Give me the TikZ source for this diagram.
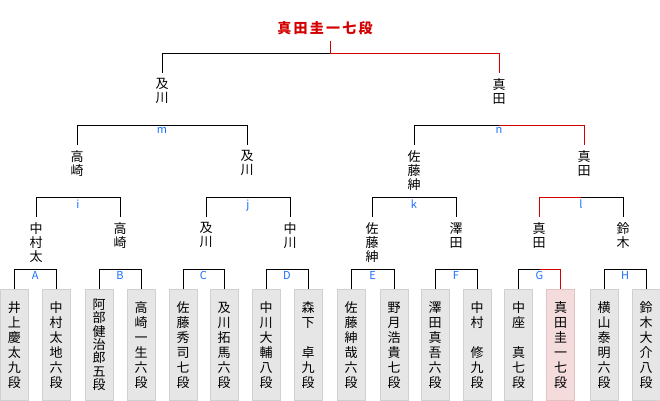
\documentclass[tikz,border=0pt]{standalone}
\usepackage{fontspec}
\setmainfont{Noto Sans CJK JP}
\newfontfamily\titlefont[LetterSpace=16]{Noto Sans CJK JP}
\usepackage{xcolor}
\usepackage{tikz}
\usetikzlibrary{positioning,calc}
\definecolor{winred}{HTML}{D40000}
\definecolor{tagblue}{HTML}{1A6EFF}
\definecolor{boxgray}{HTML}{E6E6E6}
\definecolor{boxline}{HTML}{D0D0D0}
\definecolor{boxpink}{HTML}{F4DCDC}
\definecolor{pinkline}{HTML}{E2C2C2}

\begin{document}
\begin{tikzpicture}[x=1pt,y=-1pt,line width=1pt,
    leaf/.style={draw=boxline,fill=boxgray,line width=0.8pt,anchor=north,minimum width=28pt,minimum height=111pt,inner sep=0pt,align=center},
    leafwin/.style={leaf,draw=pinkline,fill=boxpink},
    who/.style={anchor=north,inner xsep=0pt,inner ysep=5pt,align=center,font=\fontsize{13}{14}\selectfont},
    mlabel/.style={text=tagblue,font=\fontsize{11}{11}\selectfont,inner sep=0pt,below=2pt},
    winline/.style={draw=winred}]
  \useasboundingbox (0,0) rectangle (660,400);
  \def\match#1#2#3#4{% left, right, top y, label
    \draw (#1.north) -- (#1.north |- 0,#3) -| (#2.north) coordinate[pos=.25] (m#4) node[mlabel,pos=.25] {#4};}
  % players
  \foreach \nm/\x/\ls/\st/\txt in {
      a1/14.5/15/leaf/{井\\上\\慶\\太\\九\\段}, a2/56/15/leaf/{中\\村\\太\\地\\六\\段},
      b1/99/13.3/leaf/{阿\\部\\健\\治\\郎\\五\\段}, b2/141/15/leaf/{高\\崎\\一\\生\\六\\段},
      c1/183/15/leaf/{佐\\藤\\秀\\司\\七\\段}, c2/224/15/leaf/{及\\川\\拓\\馬\\六\\段},
      d1/266/15/leaf/{中\\川\\大\\輔\\八\\段}, d2/308/15/leaf/{森\\下\\\phantom{段}\\卓\\九\\段},
      e1/351/15/leaf/{佐\\藤\\紳\\哉\\六\\段}, e2/394/15/leaf/{野\\月\\浩\\貴\\七\\段},
      f1/435/15/leaf/{澤\\田\\真\\吾\\六\\段}, f2/477/15/leaf/{中\\村\\\phantom{段}\\修\\九\\段},
      g1/518.5/15/leaf/{中\\座\\\phantom{段}\\真\\七\\段}, g2/560.5/15/leafwin/{真\\田\\圭\\一\\七\\段},
      h1/604/15/leaf/{横\\山\\泰\\明\\六\\段}, h2/646/15/leaf/{鈴\\木\\大\\介\\八\\段}}
    \node[\st,font=\fontsize{13}{\ls}\selectfont] (\nm) at (\x,289) {\txt};
  % first round
  \foreach \p/\l in {a/A,b/B,c/C,d/D,e/E,f/F,g/G,h/H}
    \match{\p1}{\p2}{269}{\l};
  \draw[winline] (mG) -| (g2.north);
  % second round
  \node[who] (wA) at (36,217) {中\\村\\太};
  \node[who] (wB) at (120,217) {高\\崎};
  \node[who] (wC) at (206,217) {及\\川};
  \node[who] (wD) at (290,217) {中\\川};
  \node[who] (wE) at (372,217) {佐\\藤\\紳};
  \node[who] (wF) at (456,217) {澤\\田};
  \node[who] (wG) at (539,217) {真\\田};
  \node[who] (wH) at (623,217) {鈴\\木};
  \match{wA}{wB}{197}{i}
  \match{wC}{wD}{197}{j}
  \match{wE}{wF}{197}{k}
  \match{wG}{wH}{197}{l}
  \draw[winline] (ml) -| (wG.north);
  % semi-finals
  \node[who] (wI) at (77,145) {高\\崎};
  \node[who] (wJ) at (247,145) {及\\川};
  \node[who] (wK) at (414,145) {佐\\藤\\紳};
  \node[who] (wL) at (584,145) {真\\田};
  \match{wI}{wJ}{125}{m}
  \match{wK}{wL}{125}{n}
  \draw[winline] (mn) -| (wL.north);
  % final
  \node[who] (wM) at (162,73) {及\\川};
  \node[who] (wN) at (499,73) {真\\田};
  \node[text=winred,inner sep=6pt,font=\titlefont\bfseries\fontsize{14}{14}\selectfont] (champ) at (325,28) {真田圭一七段};
  \draw (wM.north) -- (wM.north |- 0,53) -| (wN.north) coordinate[pos=.25] (mtop);
  \draw[winline] (champ.south -| mtop) -- (mtop) -| (wN.north);
\end{tikzpicture}
\end{document}
